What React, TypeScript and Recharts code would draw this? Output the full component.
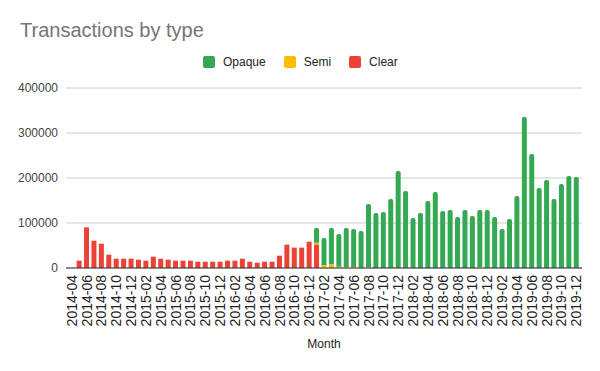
import { Bar, BarChart, CartesianGrid, XAxis, YAxis } from "recharts";

const FONT = "Arial, 'Liberation Sans', sans-serif";

const MONTHS = [
  "2014-04", "2014-05", "2014-06", "2014-07", "2014-08", "2014-09", "2014-10", "2014-11", "2014-12",
  "2015-01", "2015-02", "2015-03", "2015-04", "2015-05", "2015-06", "2015-07", "2015-08", "2015-09",
  "2015-10", "2015-11", "2015-12",
  "2016-01", "2016-02", "2016-03", "2016-04", "2016-05", "2016-06", "2016-07", "2016-08", "2016-09",
  "2016-10", "2016-11", "2016-12",
  "2017-01", "2017-02", "2017-03", "2017-04", "2017-05", "2017-06", "2017-07", "2017-08", "2017-09",
  "2017-10", "2017-11", "2017-12",
  "2018-01", "2018-02", "2018-03", "2018-04", "2018-05", "2018-06", "2018-07", "2018-08", "2018-09",
  "2018-10", "2018-11", "2018-12",
  "2019-01", "2019-02", "2019-03", "2019-04", "2019-05", "2019-06", "2019-07", "2019-08", "2019-09",
  "2019-10", "2019-11", "2019-12",
];

// 2014-04 .. 2016-12 red only, mixed in 2017-01, green afterwards
const CLEAR = [
  0, 16300, 90400, 60700, 54000, 29600, 20700, 20700, 20700,
  18500, 16300, 25200, 20700, 18500, 16300, 16300, 16300, 14000, 14000, 14000, 14000,
  16300, 16300, 20700, 14000, 11900, 14000, 14000, 27400, 51900, 45200, 45200, 58500,
  52400, 0, 0, 0, 0, 0, 0, 0, 0, 0, 0, 0,
  0, 0, 0, 0, 0, 0, 0, 0, 0, 0, 0, 0,
  0, 0, 0, 0, 0, 0, 0, 0, 0, 0, 0, 0,
];

const SEMI = [
  0, 0, 0, 0, 0, 0, 0, 0, 0,
  0, 0, 0, 0, 0, 0, 0, 0, 0, 0, 0, 0,
  0, 0, 0, 0, 0, 0, 0, 0, 0, 0, 0, 0,
  3700, 5900, 8100, 3000, 2200, 2200, 800, 1500, 0, 0, 0, 0,
  0, 0, 0, 0, 0, 0, 0, 0, 0, 0, 2000, 0,
  0, 0, 0, 0, 0, 0, 0, 0, 0, 0, 0, 0,
];

const OPAQUE = [
  0, 0, 0, 0, 0, 0, 0, 0, 0,
  0, 0, 0, 0, 0, 0, 0, 0, 0, 0, 0, 0,
  0, 0, 0, 0, 0, 0, 0, 0, 0, 0, 0, 0,
  32800, 60800, 80800, 72600, 86700, 84500, 81400, 140700, 122200, 124400, 153300, 215600,
  171100, 111100, 122200, 148900, 168900, 126700, 128900, 113300, 128900, 115600, 126900, 128900,
  113300, 86700, 108900, 160000, 335600, 253300, 177800, 195600, 153300, 186700, 204400, 202200,
];

const Y_TICKS = [0, 100000, 200000, 300000, 400000];

const SERIES = [
  { key: "opaque", label: "Opaque", color: "#34a853" },
  { key: "semi", label: "Semi", color: "#fbbc04" },
  { key: "clear", label: "Clear", color: "#ea4335" },
];

const rows = MONTHS.map((month, i) => ({
  month,
  clear: CLEAR[i],
  semi: SEMI[i],
  opaque: OPAQUE[i],
}));

function MonthTick({ x, y, payload }: any) {
  return (
    <g transform={`translate(${x},${y - 1})`}>
      <text
        transform="rotate(-90)"
        textAnchor="end"
        dy="0.36em"
        fontSize={14}
        fontFamily={FONT}
        fill="#222"
      >
        {payload.value}
      </text>
    </g>
  );
}

function ChartLegend() {
  return (
    <div
      style={{
        position: "absolute",
        top: 55,
        left: 203,
        display: "flex",
        alignItems: "center",
        fontFamily: FONT,
        fontSize: 12,
        color: "#222",
        whiteSpace: "nowrap",
      }}
    >
      {SERIES.map((s) => (
        <div key={s.key} style={{ display: "flex", alignItems: "center", marginRight: 18 }}>
          <span
            style={{
              width: 12,
              height: 12,
              borderRadius: 2,
              background: s.color,
              marginRight: 8,
              display: "inline-block",
            }}
          />
          <span>{s.label}</span>
        </div>
      ))}
    </div>
  );
}

export default function App() {
  return (
    <div style={{ position: "absolute", left: 0, top: 0, width: 600, height: 371, background: "#fff" }}>
      <div
        style={{
          position: "absolute",
          left: 20,
          top: 19,
          fontFamily: FONT,
          fontSize: 20,
          color: "#757575",
          whiteSpace: "nowrap",
        }}
      >
        Transactions by type
      </div>
      <ChartLegend />
      <BarChart
        width={600}
        height={371}
        data={rows}
        margin={{ top: 88, right: 18, bottom: 23, left: 6 }}
        barCategoryGap="16%"
      >
        <CartesianGrid vertical={false} stroke="#cccccc" />
        <XAxis
          dataKey="month"
          interval={1}
          height={80}
          tickLine={false}
          axisLine={{ stroke: "#333" }}
          tick={<MonthTick />}
          padding={{ left: 2, right: 2 }}
          label={{
            value: "Month",
            position: "insideBottom",
            offset: 0,
            fontSize: 12,
            fontFamily: FONT,
            fill: "#222",
          }}
        />
        <YAxis
          width={60}
          domain={[0, 400000]}
          ticks={Y_TICKS}
          tickLine={false}
          axisLine={false}
          tick={{ fontSize: 12, fontFamily: FONT, fill: "#444" }}
        />
        <Bar dataKey="clear" stackId="t" fill="#ea4335" isAnimationActive={false} />
        <Bar dataKey="semi" stackId="t" fill="#fbbc04" isAnimationActive={false} />
        <Bar
          dataKey="opaque"
          stackId="t"
          fill="#34a853"
          radius={[2, 2, 0, 0]}
          isAnimationActive={false}
        />
      </BarChart>
    </div>
  );
}
